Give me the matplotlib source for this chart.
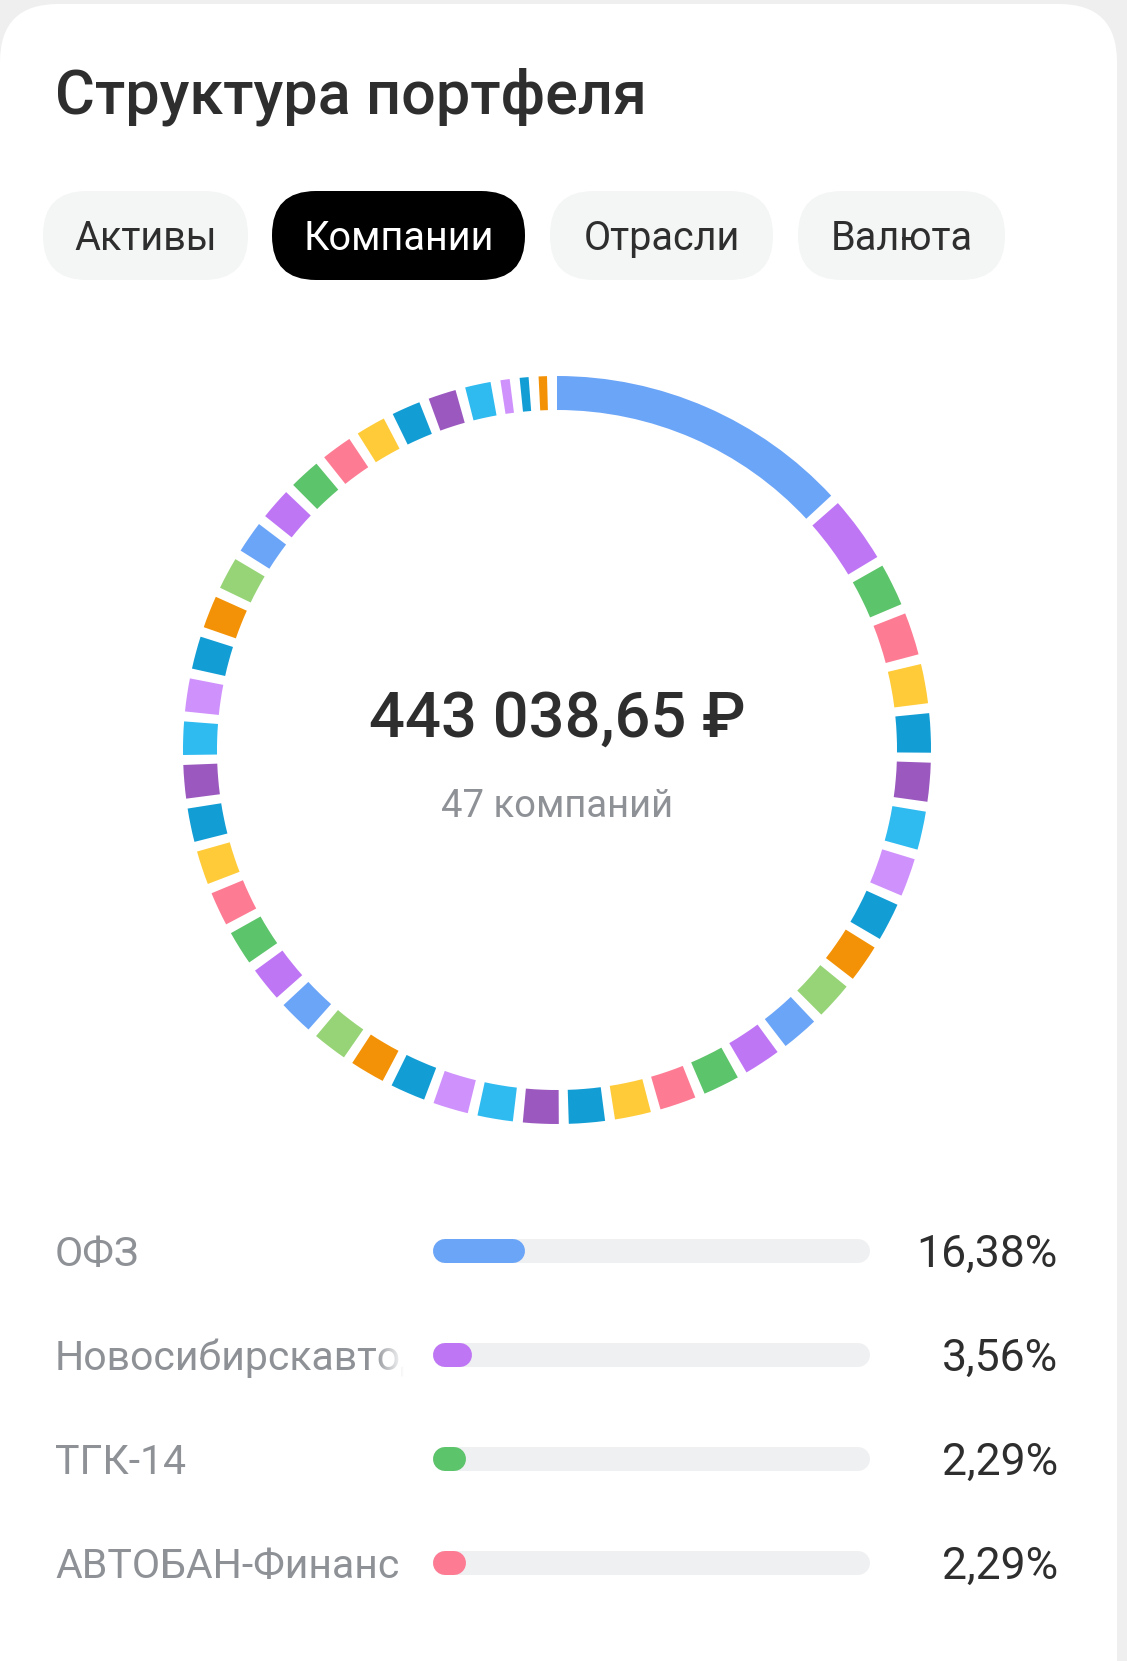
import matplotlib
matplotlib.use('Agg')
import matplotlib.pyplot as plt
import matplotlib.patches as patches
from matplotlib.transforms import Bbox, TransformedBbox
import numpy as np

plt.rcParams['font.family'] = ['Roboto', 'DejaVu Sans']

# --- data ---
TITLE = 'Структура портфеля'
TABS = ['Активы', 'Компании', 'Отрасли', 'Валюта']
ACTIVE_TAB = 'Компании'
TOTAL_LABEL = '443 038,65 ₽'
COUNT_LABEL = '47 компаний'

# listed companies (bars under the donut)
TOP_NAMES = ['ОФЗ', 'Новосибирскавтодор', 'ТГК-14', 'АВТОБАН-Финанс']
TOP_SHARES = [16.38, 3.56, 2.29, 2.29]

# the other 43 companies (%)
OTHER_SHARES = [2.12, 2.11, 2.09, 2.07, 2.06, 2.05, 2.03, 2.01, 2.00, 1.98,
                1.97, 1.96, 1.95, 1.94, 1.92, 1.91, 1.90, 1.89, 1.88, 1.87,
                1.86, 1.85, 1.84, 1.83, 1.82, 1.81, 1.80, 1.79, 1.78, 1.76,
                1.74, 1.73, 1.72, 1.70, 1.68, 1.66, 1.60, 1.55, 1.50, 1.38,
                0.50, 0.48, 0.45]

# --- style ---
PALETTE = ['#6ba5f8', '#bf76f5', '#5cc46a', '#fd7b93', '#ffcb38', '#129dd5',
           '#9b59c0', '#2fbaf0', '#cf91fc', '#129dd5', '#f39206', '#97d477']
GAP_SHARE = 0.532          # white gap between ring segments, in % units
BG = '#efefef'
TEXT_DARK = '#2e2e2e'
TEXT_GRAY = '#8e9196'
TRACK = '#eff0f2'
TAB_FILL = '#f4f5f5'

W, H = 1127, 1661
fig = plt.figure(figsize=(W / 100, H / 100), dpi=100)
fig.patch.set_facecolor(BG)

# main canvas in pixel coordinates
ax = fig.add_axes([0, 0, 1, 1])
ax.set_xlim(0, W)
ax.set_ylim(H, 0)
ax.axis('off')

card = patches.FancyBboxPatch((0, 4), 1117, H + 100,
                              boxstyle='round,pad=0,rounding_size=58',
                              facecolor='white', edgecolor='none', zorder=0)
ax.add_patch(card)

ax.text(55, 114, TITLE, fontsize=44, fontweight='medium', color=TEXT_DARK,
        ha='left', va='baseline')

# tabs
tab_x = [(43, 248), (272, 525), (550, 773), (798, 1005)]
for name, (x0, x1) in zip(TABS, tab_x):
    active = name == ACTIVE_TAB
    pill = patches.FancyBboxPatch((x0, 191), x1 - x0, 89,
                                  boxstyle='round,pad=0,rounding_size=44',
                                  facecolor='black' if active else TAB_FILL,
                                  edgecolor='none', zorder=1)
    ax.add_patch(pill)
    ax.text((x0 + x1) / 2, 250, name, fontsize=28.5,
            color='white' if active else TEXT_DARK,
            ha='center', va='baseline', zorder=2)

# --- donut ---
cx, cy, r_out, ring = 557, 750, 374, 34
ax_d = fig.add_axes([(cx - r_out) / W, (H - cy - r_out) / H,
                     2 * r_out / W, 2 * r_out / H])
shares = TOP_SHARES + OTHER_SHARES
vals, cols = [], []
for i, v in enumerate(shares):
    vals += [v, GAP_SHARE]
    cols += [PALETTE[i % len(PALETTE)], 'none']
ax_d.pie(vals, colors=cols, startangle=90, counterclock=False, radius=1,
         wedgeprops=dict(width=ring / r_out, linewidth=0))
ax_d.set_xlim(-1, 1)
ax_d.set_ylim(-1, 1)
ax_d.set_aspect('equal')
ax_d.axis('off')

ax.text(cx, 737, TOTAL_LABEL, fontsize=45.5, fontweight='medium',
        color=TEXT_DARK, ha='center', va='baseline')
ax.text(cx, 817, COUNT_LABEL, fontsize=27.5, color=TEXT_GRAY,
        ha='center', va='baseline')

# --- bars ---
row0, row_step = 1251, 104
bx0, bx1 = 445, 858
n = len(TOP_NAMES)
top_px = row0 - row_step / 2
ax_b = fig.add_axes([bx0 / W, (H - (top_px + n * row_step)) / H,
                     (bx1 - bx0) / W, n * row_step / H])
ax_b.set_xlim(0, 100)
ax_b.set_ylim(n - 0.5, -0.5)
ax_b.axis('off')
lw = 24 * 0.72
for i, (name, p) in enumerate(zip(TOP_NAMES, TOP_SHARES)):
    col = PALETTE[i % len(PALETTE)]
    ax_b.plot([0, 100], [i, i], color=TRACK, lw=lw, solid_capstyle='round',
              zorder=1, clip_on=False)
    ax_b.plot([0, p], [i, i], color=col, lw=lw, solid_capstyle='round',
              zorder=2, clip_on=False)
    y = row0 + i * row_step
    t = ax.text(55, y + 15, name, fontsize=29.5, color=TEXT_GRAY,
                ha='left', va='baseline', zorder=2)
    t.set_clip_box(TransformedBbox(Bbox.from_extents(0, y - 60, 404, y + 60),
                                   ax.transData))
    t.set_clip_on(True)
    ax.text(1058, y + 16, f'{p:.2f}%'.replace('.', ','), fontsize=32,
            color=TEXT_DARK, ha='right', va='baseline')

# fade the truncated label edge
fade = np.ones((1, 64, 4))
fade[0, :, 3] = np.linspace(0, 1, 64)
ax.imshow(fade, extent=(374, 404, row0 + row_step + 40, row0 + row_step - 40),
          aspect='auto', zorder=3, interpolation='bilinear')
ax.set_xlim(0, W)
ax.set_ylim(H, 0)

fig.savefig('out.png', dpi=100, facecolor=fig.get_facecolor())
